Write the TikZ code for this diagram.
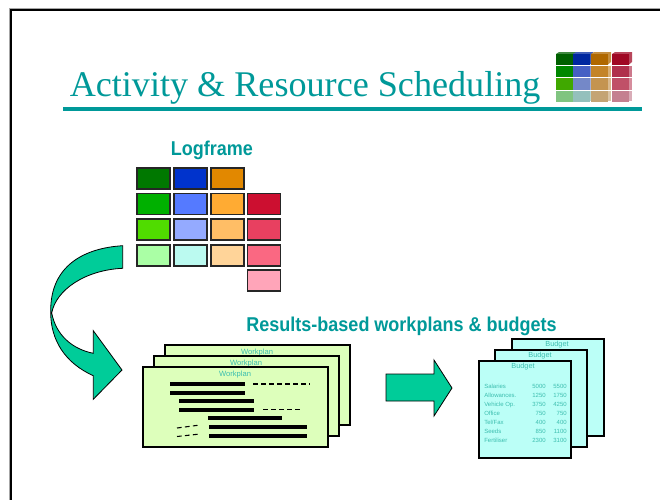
\documentclass[tikz,border=0pt]{standalone}
\usepackage{fontspec}
\setmainfont{Liberation Serif}
\newfontfamily\arl{Liberation Sans}
\definecolor{teal1}{RGB}{0,153,153}
\definecolor{arrowg}{RGB}{0,204,153}
\definecolor{wp}{RGB}{221,255,187}
\definecolor{bud}{RGB}{187,255,247}
\definecolor{budt}{RGB}{60,190,175}
\tikzset{
 cell/.style={draw=black!85,line width=0.8pt},
 bigarrow/.style={draw=black,line width=0.6pt,fill=arrowg,line join=miter},
 sheet/.style={draw=black,line width=1.1pt},
 budsheet/.style={draw=black,line width=0.9pt},
 bar/.style={fill=black},
 dashbar/.style={draw=black,line width=1.1pt},
 lbl/.style={inner sep=0pt,anchor=center},
 heading/.style={inner sep=0pt,anchor=base,xscale=0.9,text=teal1,font=\arl\bfseries\fontsize{15}{18}\selectfont},
 smallhead/.style={inner sep=0pt,anchor=center,text=budt},
 rowt/.style={inner sep=0pt,font=\arl\fontsize{4.5}{5.5}\selectfont,text=budt},
}
\begin{document}
\begin{tikzpicture}[x=0.75pt,y=-0.75pt]
\useasboundingbox (0,0) rectangle (660,500);
\fill[white] (0,0) rectangle (660,500);
\draw[black!35,line width=2.2pt] (660,9.8)--(10.8,9.8)--(10.8,500);
\draw[black,line width=1pt] (660,10)--(11,10)--(11,500);
% title
\node[lbl,anchor=base west,text=teal1,font=\fontsize{27.1}{30}\selectfont] (title) at (69.5,96.5) {Activity \& Resource Scheduling};
\fill[teal1] (63,107) rectangle (642,110.5);
% icon
\foreach \x/\cv in {556/{0,96,0},573/{0,40,160},591/{176,104,0},612/{160,8,36}}{
  \definecolor{ic}{RGB}{\cv}
  \fill[ic!75!white] (\x+3,52) -- (\x+20,52)--(\x+20,62)--(\x+17,64.5)--(\x,64.5)--(\x,54)--cycle;
  \fill[ic] (\x,54) rectangle (\x+17,64.5);
}
\foreach \x/\cv in {556/{0,136,0},573/{70,96,196},591/{196,132,40},612/{176,48,76}}{
  \definecolor{ic}{RGB}{\cv}
  \fill[ic!65!white] (\x,65.5) rectangle (\x+20,77);
  \fill[ic] (\x,65.5) rectangle (\x+17,77);
}
\foreach \x/\cv in {556/{64,168,0},573/{116,136,200},591/{196,148,80},612/{192,80,104}}{
  \definecolor{ic}{RGB}{\cv}
  \fill[ic!65!white] (\x,78) rectangle (\x+20,89.5);
  \fill[ic] (\x,78) rectangle (\x+17,89.5);
}
\foreach \x/\cv in {556/{128,196,128},573/{148,192,188},591/{196,164,116},612/{196,128,144}}{
  \definecolor{ic}{RGB}{\cv}
  \fill[ic!65!white] (\x,91) rectangle (\x+20,101);
  \fill[ic] (\x,91) rectangle (\x+17,102);
}
% logframe
\node[heading] (lf) at (212,155.7) {Logframe};
\foreach \x/\y/\cv in {
 137/168/{0,120,0},174/168/{0,51,204},211/168/{226,136,0},
 137/193.5/{0,176,0},174/193.5/{85,122,255},211/193.5/{255,171,51},247.5/193.5/{204,15,48},
 137/219/{80,220,0},174/219/{148,170,255},211/219/{255,190,102},247.5/219/{232,64,96},
 137/245/{170,255,165},174/245/{187,250,240},211/245/{255,212,153},247.5/245/{250,104,130},
 247.5/270/{255,165,185}}{
  \definecolor{cc}{RGB}{\cv}
  \draw[cell,fill=cc] (\x,\y) rectangle (\x+33,\y+21);
}
% curved arrow
\draw[bigarrow] (122.7,245.7) .. controls (85,248) and (50,265) .. (50.7,312)
  .. controls (50.5,340) and (65,363) .. (93.3,375.7) -- (93.3,399.3) -- (122,370) -- (93.3,330.7) -- (93.3,353.3)
  .. controls (72,349) and (56,335) .. (51.7,313)
  .. controls (56,290) and (85,270) .. (122.7,268.3) -- cycle;
% workplans
\draw[sheet,fill=wp] (165,345) rectangle (350,425);
\node[smallhead,font=\arl\fontsize{5.7}{7}\selectfont] (w3) at (257,353) {Workplan};
\draw[sheet,fill=wp] (154,356) rectangle (339,436);
\node[smallhead,font=\arl\fontsize{5.7}{7}\selectfont] (w2) at (246,364) {Workplan};
\draw[sheet,fill=wp] (143,367) rectangle (328,447);
\node[smallhead,font=\arl\fontsize{5.7}{7}\selectfont] (w1) at (235,375) {Workplan};
\fill[bar] (170,382) rectangle (245,386);
\fill[bar] (170,391) rectangle (245,395);
\fill[bar] (179,399) rectangle (254,403);
\fill[bar] (179,408) rectangle (254,412);
\fill[bar] (208,416) rectangle (282,420);
\fill[bar] (209,425) rectangle (307,429);
\fill[bar] (209,434) rectangle (307,438);
\draw[dashbar,dash pattern=on 3.5pt off 2.5pt] (253,384)--(310,384);
\draw[dashbar,line width=0.8pt,dash pattern=on 3.5pt off 2.5pt] (263,409.5)--(300,409.5);
\draw[dashbar,line width=0.8pt,dash pattern=on 3.5pt off 2.5pt] (177,428)--(200,425);
\draw[dashbar,line width=0.8pt,dash pattern=on 3.5pt off 2.5pt] (177,436.5)--(200,434);
% middle arrow
\draw[bigarrow] (386,374) -- (434,374) -- (434,360) -- (452,388) -- (434,416) -- (434,401) -- (386,401) -- cycle;
% results heading
\node[heading] (res) at (401.5,331) {Results-based workplans \& budgets};
% budgets
\draw[budsheet,fill=bud] (512,339) rectangle (604,436);
\node[smallhead,font=\arl\fontsize{5.5}{7}\selectfont] (b3) at (557,345) {Budget};
\draw[budsheet,fill=bud] (495,350) rectangle (587,447);
\node[smallhead,font=\arl\fontsize{5.5}{7}\selectfont] (b2) at (540,356) {Budget};
\draw[budsheet,fill=bud] (479,361) rectangle (571,458);
\node[smallhead,font=\arl\fontsize{5.5}{7}\selectfont] (b1) at (523,367) {Budget};
\foreach \n/\a/\b/\y in {Salaries/5000/5500/386.5,Allowances./1250/1750/395.5,Vehicle Op./3750/4250/404.5,Office/750/750/413.5,{Tel/Fax}/400/400/422.5,Seeds/850/1100/431,Fertiliser/2300/3100/440}{
  \node[rowt,anchor=west] at (484,\y) {\n};
  \node[rowt,anchor=east] at (546,\y) {\a};
  \node[rowt,anchor=east] at (567,\y) {\b};
}
\end{tikzpicture}
\end{document}
